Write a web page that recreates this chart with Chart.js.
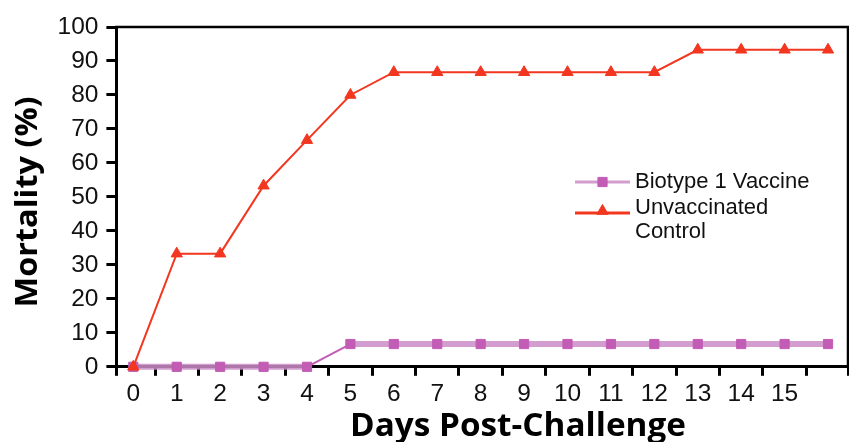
<!DOCTYPE html>
<html><head><meta charset="utf-8">
<script src="https://cdn.jsdelivr.net/npm/chart.js@4/dist/chart.umd.min.js"></script>
<style>html,body{margin:0;padding:0;background:#fff}#wrap{width:849px;height:442px;position:relative}</style>
</head><body><div id="wrap"><canvas id="c" width="849" height="442"></canvas></div>
<script>
// ---- data ----
const days = [0,1,2,3,4,5,6,7,8,9,10,11,12,13,14,15,16];
const vaccineMortality = [0,0,0,0,0,6.7,6.7,6.7,6.7,6.7,6.7,6.7,6.7,6.7,6.7,6.7,6.7];
const controlMortality = [0,33.3,33.3,53.3,66.7,80,86.7,86.7,86.7,86.7,86.7,86.7,86.7,93.3,93.3,93.3,93.3];
const dayTickLabels = ['0','1','2','3','4','5','6','7','8','9','10','11','12','13','14','15'];
const yTickValues = [0,10,20,30,40,50,60,70,80,90,100];
const seriesNames = ['Biotype 1 Vaccine', ['Unvaccinated','Control']];
const xTitle = 'Days Post-Challenge';
const yTitle = 'Mortality (%)';

const PURPLE_LINE = 'rgba(205,140,200,0.85)';
const PURPLE_MARK = '#c25cb4';
const RED = '#f2361f';
const TICK_FONT = {family:'Liberation Sans', size:24.5};

const decor = {
  id:'decor',
  afterDraw(chart, args, o){
    const {ctx, chartArea:a} = chart;
    ctx.save();
    // top and right frame
    ctx.strokeStyle = '#000'; ctx.lineWidth = 2.5; ctx.lineCap = 'square';
    ctx.beginPath(); ctx.moveTo(a.left, a.top); ctx.lineTo(a.right, a.top); ctx.lineTo(a.right, a.bottom); ctx.stroke();

    // axis titles
    ctx.fillStyle = '#000';
    const fit = (txt, size, w) => {
      ctx.font = `bold ${size}px "Open Sans"`;
      return w / ctx.measureText(txt).width;
    };
    let s = fit(xTitle, 32, o.xTitleW);
    ctx.save();
    ctx.translate(o.xTitleX, o.xTitleY); ctx.scale(s,1);
    ctx.textAlign='center'; ctx.textBaseline='alphabetic';
    ctx.fillText(xTitle, 0, 0);
    ctx.restore();
    s = fit(yTitle, 31, o.yTitleW);
    ctx.save();
    ctx.translate(o.yTitleX, (a.top+a.bottom)/2 + o.yTitleDY); ctx.rotate(-Math.PI/2); ctx.scale(s,1);
    ctx.textAlign='center'; ctx.textBaseline='alphabetic';
    ctx.fillText(yTitle, 0, 0);
    ctx.restore();

    // legend
    chart.data.datasets.forEach((ds, i) => {
      const ly = o.legLineY[i];
      ctx.strokeStyle = ds.legendLine; ctx.lineWidth = 3; ctx.lineCap='butt';
      ctx.beginPath(); ctx.moveTo(o.legX, ly); ctx.lineTo(o.legX + o.legLen, ly); ctx.stroke();
      ctx.fillStyle = ds.pointBackgroundColor; ctx.strokeStyle = ds.pointBorderColor; ctx.lineWidth = 1;
      Chart.helpers.drawPoint(ctx, {pointStyle: ds.pointStyle, radius: ds.pointRadius, borderWidth: 1}, o.legX + o.legLen/2, ly - (ds.pointStyle==='triangle'?2:0));
      ctx.font = '22px "Liberation Sans"';
      ctx.textAlign='left'; ctx.textBaseline='alphabetic';
      ctx.fillStyle = '#111';
      const lines = Array.isArray(ds.label) ? ds.label : [ds.label];
      lines.forEach((t, k) => ctx.fillText(t, o.legTextX, o.legTextY[i] + k*o.legLineH));
    });
    ctx.restore();
  }
};

new Chart(document.getElementById('c'), {
  type:'line',
  data:{
    datasets:[
      {
        label: seriesNames[0],
        data: days.map((d,i)=>({x:d, y:vaccineMortality[i]})),
        borderColor: PURPLE_LINE,
        borderWidth: 6,
        pointStyle:'rect', pointRadius:6.5,
        pointBackgroundColor: PURPLE_MARK, pointBorderColor: PURPLE_MARK, pointBorderWidth:1,
        legendLine: PURPLE_LINE,
        segment:{
          borderWidth: c => c.p0.parsed.y !== c.p1.parsed.y ? 2 : 6,
          borderColor: c => c.p0.parsed.y !== c.p1.parsed.y ? PURPLE_MARK : PURPLE_LINE
        },
        tension:0, order:1, clip:false
      },
      {
        label: seriesNames[1],
        data: days.map((d,i)=>({x:d, y:controlMortality[i]})),
        borderColor: RED, borderWidth: 2,
        pointStyle:'triangle', pointRadius:6.5,
        pointBackgroundColor: RED, pointBorderColor: RED, pointBorderWidth:1,
        legendLine: RED,
        tension:0, order:0, clip:false
      }
    ]
  },
  options:{
    responsive:false, animation:false, devicePixelRatio:1,
    layout:{autoPadding:false, padding:{left:49.5, right:1, top:27, bottom:29.8}},
    plugins:{
      legend:{display:false}, tooltip:{enabled:false},
      decor:{
        xTitleX:518, xTitleY:436, xTitleW:336,
        yTitleX:37, yTitleDY:5, yTitleW:211,
        legX:575, legLen:55, legLineY:[182,213],
        legTextX:635, legTextY:[188,214], legLineH:24
      }
    },
    scales:{
      x:{
        type:'linear', min:-0.39, max:16.46,
        afterBuildTicks(scale){
          const t=[{value:scale.min}];
          dayTickLabels.forEach((l,i)=>{t.push({value:i}); t.push({value:i+0.5});});
          t.push({value:scale.max});
          scale.ticks=t;
        },
        afterFit(scale){ scale.paddingLeft = 0; scale.paddingRight = 0; },
        ticks:{autoSkip:false, maxRotation:0, minRotation:0, padding:3.5, font:TICK_FONT, color:'#111',
          callback:(v)=> (Number.isInteger(v) && v>=0 && v<dayTickLabels.length) ? dayTickLabels[v] : ''},
        grid:{drawOnChartArea:false, drawTicks:true, tickLength:9, tickWidth:3,
          tickColor: c => (c.tick && Number.isInteger(c.tick.value)) ? 'rgba(0,0,0,0)' : '#000'},
        border:{color:'#000', width:3}
      },
      y:{
        min:0, max:100,
        afterBuildTicks(scale){ scale.ticks = yTickValues.map(v=>({value:v})); },
        ticks:{padding:8, font:TICK_FONT, color:'#111'},
        grid:{drawOnChartArea:false, drawTicks:true, tickLength:10, tickWidth:3, tickColor:'#000'},
        border:{color:'#000', width:3}
      }
    }
  },
  plugins:[decor]
});
</script>
</body></html>
